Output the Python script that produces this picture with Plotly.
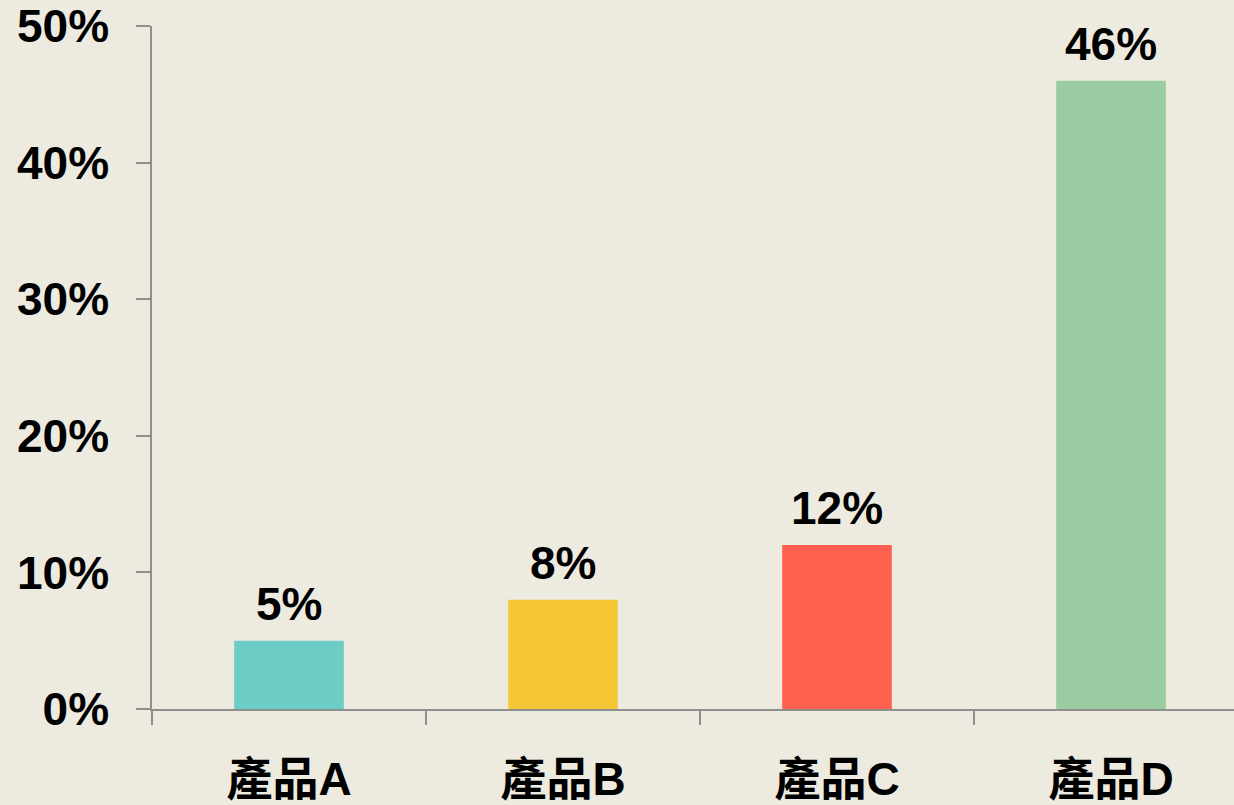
import plotly.graph_objects as go

categories = ["產品A", "產品B", "產品C", "產品D"]
values = [0.05, 0.08, 0.12, 0.46]
labels = ["5%", "8%", "12%", "46%"]
colors = ["#6CCCC6", "#F5C636", "#FF6150", "#9BCBA0"]

FONT = "Liberation Sans, Arial, Noto Sans CJK TC, sans-serif"
AXIS_COLOR = "#8F8F8F"
BG = "#EDEAE0"
FS = 46

fig = go.Figure()
fig.add_trace(go.Bar(
    x=categories, y=values, marker=dict(color=colors, line=dict(width=0)),
    width=0.4, showlegend=False, hoverinfo="skip",
))

for c, v, t in zip(categories, values, labels):
    fig.add_annotation(
        x=c, y=v, text=t, showarrow=False, yanchor="bottom", yshift=9,
        font=dict(family=FONT, size=FS, color="#000000", weight="bold"),
    )

fig.update_layout(
    width=1234, height=805,
    margin=dict(l=152, r=0, t=25, b=95),
    paper_bgcolor=BG, plot_bgcolor=BG,
)
fig.update_xaxes(
    type="category", range=[-0.5, -0.5 + 1082 / 274],
    showline=True, linecolor=AXIS_COLOR, linewidth=1.5,
    ticks="outside", ticklen=14, tickwidth=1.5, tickcolor=AXIS_COLOR,
    tickson="boundaries", showgrid=False, zeroline=False,
    ticklabelstandoff=29,
    tickfont=dict(family=FONT, size=FS, color="#000000", weight="bold"),
)
fig.update_yaxes(
    range=[0, 0.5], dtick=0.1, tickformat=".0%",
    showline=True, linecolor=AXIS_COLOR, linewidth=1.5,
    ticks="outside", ticklen=14, tickwidth=1.5, tickcolor=AXIS_COLOR,
    showgrid=False, zeroline=False,
    ticklabelstandoff=18, ticklabeloverflow="allow",
    tickfont=dict(family=FONT, size=FS, color="#000000", weight="bold"),
)

fig.write_html("out.html", config={"displayModeBar": False},
               post_script="document.body.style.margin='0';")
